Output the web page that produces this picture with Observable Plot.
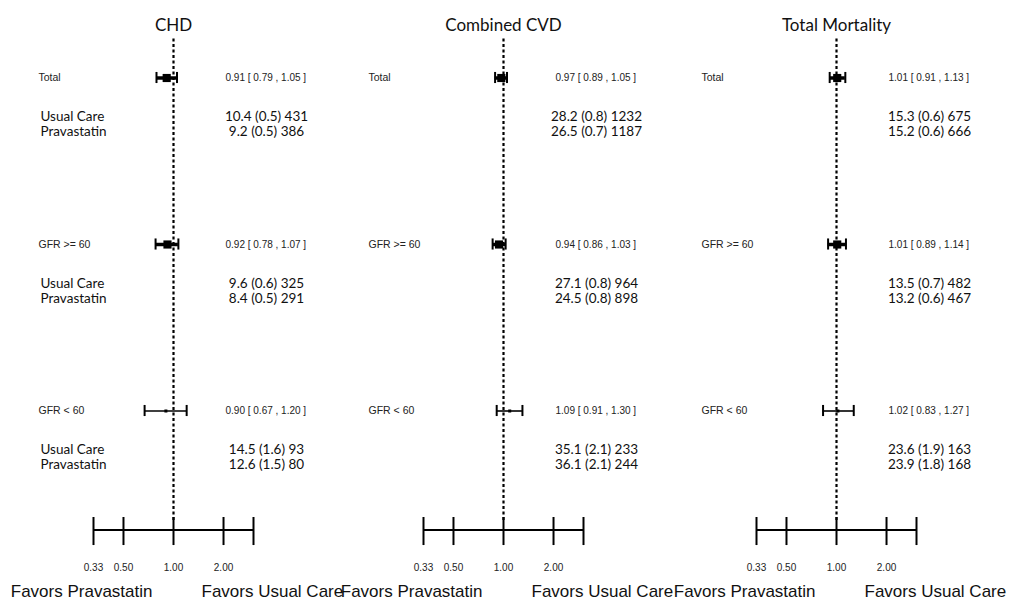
<!DOCTYPE html>
<html><head><meta charset="utf-8">
<script src="https://cdn.jsdelivr.net/npm/d3@7"></script>
<script src="https://cdn.jsdelivr.net/npm/@observablehq/plot@0.6"></script>
<style>
html,body{margin:0;padding:0;background:#fff;}
#chart{position:relative;width:1010px;height:609px;overflow:hidden;}
#chart svg{position:absolute;top:0;overflow:visible;max-width:none;}
</style></head><body><div id="chart"></div>
<script>
const panels = ["CHD", "Combined CVD", "Total Mortality"];
const groups = ["Total", "GFR >= 60", "GFR < 60"];
const hr     = [[0.91, 0.92, 0.90], [0.97, 0.94, 1.09], [1.01, 1.01, 1.02]];
const ciLow  = [[0.79, 0.78, 0.67], [0.89, 0.86, 0.91], [0.91, 0.89, 0.83]];
const ciHigh = [[1.05, 1.07, 1.20], [1.05, 1.03, 1.30], [1.13, 1.14, 1.27]];
const armLabels = ["Usual Care", "Pravastatin"];
const ucRate = [[10.4, 9.6, 14.5], [28.2, 27.1, 35.1], [15.3, 13.5, 23.6]];
const ucSE   = [[0.5, 0.6, 1.6], [0.8, 0.8, 2.1], [0.6, 0.7, 1.9]];
const ucN    = [[431, 325, 93], [1232, 964, 233], [675, 482, 163]];
const pvRate = [[9.2, 8.4, 12.6], [26.5, 24.5, 36.1], [15.2, 13.2, 23.9]];
const pvSE   = [[0.5, 0.5, 1.5], [0.7, 0.8, 2.1], [0.6, 0.6, 1.8]];
const pvN    = [[386, 291, 80], [1187, 898, 244], [666, 467, 168]];
const tickValues = [0.33, 0.5, 1, 2, 3.03];
const tickLabels = ["0.33", "0.50", "1.00", "2.00", ""];
const favorLabels = ["Favors Pravastatin", "Favors Usual Care"];

// layout
const STEP = 11.1, ARM1 = 2.6, ARM2 = 3.6;
const widths = [330, 333, 347], lefts = [0, 330, 663];
const SANS = "Liberation Sans, Arial, sans-serif";
const CAL = "Lato, Open Sans, sans-serif";
const chart = document.getElementById("chart");

panels.forEach((title, p) => {
  const rows = groups.map((g, i) => ({
    label: g, y: i * STEP, hr: hr[p][i], lo: ciLow[p][i], hi: ciHigh[p][i], ref: 1, big: i < 2,
    ci: `${hr[p][i].toFixed(2)} [ ${ciLow[p][i].toFixed(2)} , ${ciHigh[p][i].toFixed(2)} ]`
  }));
  const arms = groups.flatMap((g, i) => [
    {label: armLabels[0], y: i * STEP + ARM1, ref: 1, text: `${ucRate[p][i].toFixed(1)} (${ucSE[p][i].toFixed(1)}) ${ucN[p][i]}`},
    {label: armLabels[1], y: i * STEP + ARM2, ref: 1, text: `${pvRate[p][i].toFixed(1)} (${pvSE[p][i].toFixed(1)}) ${pvN[p][i]}`}
  ]);
  const ticks = tickValues.map((v, i) => ({v, label: tickLabels[i]}));
  const W = widths[p];
  const rowMarks = rows.flatMap(d => [
    Plot.ruleY([d], {y: "y", x1: "lo", x2: "hi", stroke: "#000", strokeWidth: d.big ? 3.5 : 1.6}),
    Plot.ruleX([d], {x: "lo", y1: e => e.y - 0.37, y2: e => e.y + 0.37, stroke: "#000", strokeWidth: 2}),
    Plot.ruleX([d], {x: "hi", y1: e => e.y - 0.37, y2: e => e.y + 0.37, stroke: "#000", strokeWidth: 2}),
    Plot.dot([d], {x: "hr", y: "y", r: d.big ? 4.6 : 1.7, symbol: "square", fill: "#000", stroke: null})
  ]);
  const svg = Plot.plot({
    width: W, height: 609,
    marginTop: 40, marginBottom: 89, marginLeft: 93, marginRight: W - 253,
    x: {type: "log", domain: [0.33, 3.03], axis: null},
    y: {domain: [-2.5, 29.5], reverse: true, axis: null},
    style: {background: "transparent", overflow: "visible"},
    marks: [
      Plot.ruleX([1], {y1: -2.6, y2: 29.6, stroke: "#000", strokeWidth: 2.2, strokeDasharray: "3,2.5"}),
      ...rowMarks,
      Plot.text(rows, {x: "ref", y: "y", text: "label", dx: -135, textAnchor: "start", fontSize: 10.5, fontFamily: SANS, fill: "#222"}),
      Plot.text(rows, {x: "ref", y: "y", text: "ci", dx: 52, textAnchor: "start", fontSize: 10, fontFamily: SANS, fill: "#222"}),
      Plot.text(p === 0 ? arms : [], {x: "ref", y: "y", text: "label", dx: -133, textAnchor: "start", fontSize: 13.5, fontFamily: CAL, fill: "#111"}),
      Plot.text(arms, {x: "ref", y: "y", text: "text", dx: 93, textAnchor: "middle", fontSize: 13.5, fontFamily: CAL, fill: "#111"}),
      Plot.text([title], {x: () => 1, frameAnchor: "top", dy: -22, text: d => d, fontSize: 17, fontFamily: CAL, fill: "#111"}),
      Plot.ruleY([30.13], {x1: tickValues[0], x2: tickValues[tickValues.length - 1], stroke: "#000", strokeWidth: 2}),
      Plot.ruleX(ticks, {x: "v", y1: 29.3, y2: 31.17, stroke: "#000", strokeWidth: 2}),
      Plot.text(ticks, {x: "v", text: "label", frameAnchor: "bottom", dy: 50, fontSize: 10, fontFamily: SANS, fill: "#222"}),
      Plot.text([favorLabels[0]], {x: () => 1, text: d => d, frameAnchor: "bottom", dy: 76, dx: -21, textAnchor: "end", fontSize: 17, fontFamily: SANS, fill: "#111"}),
      Plot.text([favorLabels[1]], {x: () => 1, text: d => d, frameAnchor: "bottom", dy: 76, dx: 28, textAnchor: "start", fontSize: 17, fontFamily: SANS, fill: "#111"})
    ]
  });
  svg.style.left = lefts[p] + "px";
  chart.appendChild(svg);
});
</script>
</body></html>
